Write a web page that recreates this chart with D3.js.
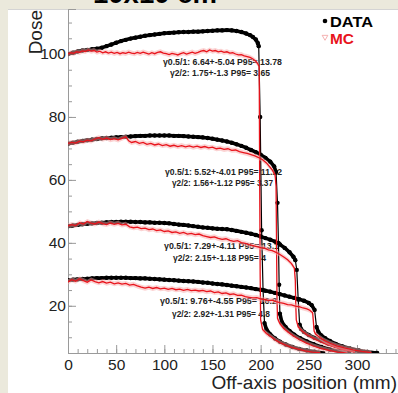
<!DOCTYPE html>
<html>
<head>
<meta charset="utf-8">
<script src="https://cdn.jsdelivr.net/npm/d3@7"></script>
<style>
  body { margin: 0; background: #ebe9dc; }
  svg { display: block; font-family: "Liberation Sans", Arial, sans-serif; }
</style>
</head>
<body>
<div class="chart"></div>
<script>
// profiles: [off-axis position (mm), dose]
const data100 = [[0,100.0],[5,100.4],[10,100.8],[15,101.1],[20,101.3],[25,101.5],[30,101.7],[35,102.0],[40,102.5],[45,103.0],[50,103.6],[55,104.1],[60,104.5],[65,104.9],[70,105.2],[75,105.5],[80,105.8],[85,106.0],[90,106.2],[95,106.4],[100,106.6],[105,106.7],[110,106.8],[115,106.9],[120,107.0],[125,107.0],[130,107.1],[135,107.1],[140,107.2],[145,107.3],[150,107.4],[155,107.5],[160,107.5],[165,107.6],[170,107.5],[175,107.3],[180,107.0],[185,106.5],[189,106.0],[192,105.4],[195,104.6],[197,103.5],[198,102.5],[199.5,80],[201,44],[202.5,25],[204,14.5],[206,12.5],[210,10.9],[215,9.6],[220,8.6],[226,7.7],[233,6.9],[240,6.3],[248,5.8],[256,5.4],[265,5.0]];
const mc100 = [[0,100.0],[3,100.4],[6,100.2],[9,100.7],[12,100.5],[15,101.0],[18,100.8],[21,101.3],[24,100.9],[27,101.1],[30,100.6],[33,100.9],[36,100.4],[39,100.7],[42,100.3],[45,100.6],[48,100.2],[51,100.5],[54,100.1],[57,100.4],[60,100.2],[63,100.6],[66,100.3],[69,100.1],[72,100.5],[75,100.2],[78,100.6],[81,100.3],[84,100.0],[87,100.4],[90,100.1],[93,100.5],[96,100.7],[99,100.3],[102,100.1],[105,99.8],[108,100.2],[111,100.0],[114,99.7],[117,100.1],[120,100.4],[123,100.0],[126,100.3],[129,100.6],[132,100.2],[135,100.5],[138,100.9],[141,101.1],[144,100.7],[147,101.3],[150,100.9],[153,101.1],[156,100.7],[159,100.9],[162,100.5],[165,100.7],[168,100.3],[171,100.4],[174,100.0],[177,99.7],[180,99.8],[183,99.4],[186,99.2],[189,98.9],[192,98.4],[195,97.7],[197,96.9],[198.5,96.0],[199,60],[199.5,30],[200,15.5],[202,12.5],[206,11.2],[210,10.3],[215,9.2],[220,8.3],[226,7.5],[232,6.8],[239,6.2],[246,5.7],[254,5.3],[262,5.0]];

const data72 = [[0,71.5],[5,71.8],[10,72.1],[15,72.4],[20,72.6],[25,72.8],[30,73.0],[35,73.2],[40,73.3],[45,73.4],[50,73.5],[55,73.6],[60,73.7],[65,73.8],[70,73.9],[75,74.0],[80,74.0],[85,74.1],[90,74.1],[95,74.1],[100,74.1],[105,74.1],[110,74.0],[115,74.0],[120,73.9],[125,73.8],[130,73.7],[135,73.6],[140,73.5],[145,73.3],[150,73.1],[155,72.8],[160,72.5],[165,72.2],[170,71.8],[175,71.3],[180,70.8],[185,70.2],[190,69.5],[195,68.8],[200,68.0],[205,67.0],[210,65.8],[214,64.3],[216,62.5],[217.5,52.7],[218.5,40],[219.2,26.7],[220,17.5],[222,14.8],[226,13.2],[230,12.0],[235,10.8],[241,9.7],[248,8.7],[255,7.8],[263,6.9],[272,6.1],[282,5.5],[292,5.1]];
const mc72 = [[0,71.6],[4,71.9],[8,71.7],[12,72.3],[16,72.1],[20,72.6],[24,72.4],[28,73.0],[32,73.4],[36,72.9],[40,73.3],[44,72.8],[48,73.1],[52,72.7],[56,73.2],[60,73.7],[63,72.4],[66,71.9],[70,72.2],[74,71.6],[78,71.9],[82,71.3],[86,71.6],[90,71.1],[94,71.4],[98,70.9],[102,71.2],[106,70.7],[110,71.0],[114,70.6],[118,70.9],[122,70.5],[126,70.8],[130,70.4],[134,70.7],[138,70.3],[142,70.6],[146,70.2],[150,70.4],[154,69.9],[158,70.1],[162,69.7],[166,69.9],[170,69.4],[174,69.5],[178,69.0],[182,68.7],[186,68.4],[190,68.0],[194,67.6],[198,67.1],[202,66.4],[206,65.4],[209,64.3],[212,63.2],[215,61.6],[216,58],[216.5,40],[217,22],[217.5,16],[220,14.3],[224,12.8],[229,11.5],[234,10.4],[240,9.3],[247,8.2],[254,7.3],[262,6.5],[271,5.8],[280,5.3],[290,5.0]];

const data45 = [[0,45.3],[5,45.5],[10,45.7],[15,45.9],[20,46.1],[25,46.2],[30,46.3],[35,46.4],[40,46.5],[45,46.6],[50,46.6],[55,46.7],[60,46.7],[65,46.7],[70,46.6],[75,46.6],[80,46.5],[85,46.5],[90,46.4],[95,46.4],[100,46.3],[105,46.2],[110,46.0],[115,45.8],[120,45.7],[125,45.5],[130,45.3],[135,45.1],[140,44.9],[145,44.8],[150,44.6],[155,44.5],[160,44.4],[165,44.3],[170,44.1],[175,43.8],[180,43.5],[185,43.2],[190,42.9],[195,42.5],[200,42.0],[205,41.5],[210,41.0],[215,40.4],[220,39.5],[225,38.4],[230,37.0],[234,35.6],[236,34.5],[237.5,31.4],[239,22],[240.5,14],[242,12.6],[245,11.7],[250,10.7],[256,9.8],[263,8.9],[270,8.0],[278,7.2],[287,6.4],[297,5.8],[308,5.3],[320,5.0]];
const mc45 = [[0,45.4],[4,45.8],[8,45.5],[12,46.4],[16,46.0],[20,46.8],[24,46.3],[28,46.0],[32,46.6],[36,46.1],[40,45.8],[44,46.3],[48,45.9],[52,46.2],[56,45.7],[60,45.9],[64,45.1],[68,44.8],[72,45.0],[76,44.5],[80,44.7],[84,44.2],[88,44.4],[92,43.9],[96,44.1],[100,43.6],[104,43.8],[108,43.3],[112,43.5],[116,43.0],[120,43.3],[124,42.8],[128,43.0],[132,42.6],[136,42.8],[140,42.3],[144,42.0],[148,41.7],[152,41.9],[156,41.4],[160,41.1],[164,41.3],[168,40.8],[172,40.5],[176,40.7],[180,40.1],[184,39.8],[188,39.4],[192,39.1],[196,38.8],[200,38.5],[204,38.3],[208,37.8],[212,37.5],[216,37.0],[220,36.3],[224,35.5],[228,34.6],[232,33.4],[235,32.0],[236,28],[236.5,20],[237,15.5],[239,13.3],[243,12.0],[248,10.8],[254,9.8],[260,8.9],[267,8.0],[274,7.2],[282,6.4],[290,5.8],[298,5.3]];

const data28 = [[0,28.1],[5,28.3],[10,28.4],[15,28.5],[20,28.6],[25,28.7],[30,28.8],[35,28.8],[40,28.9],[45,28.9],[50,28.9],[55,28.9],[60,28.9],[65,28.8],[70,28.8],[75,28.7],[80,28.7],[85,28.6],[90,28.5],[95,28.4],[100,28.3],[105,28.2],[110,28.1],[115,28.0],[120,27.9],[125,27.8],[130,27.7],[135,27.6],[140,27.4],[145,27.3],[150,27.1],[155,26.9],[160,26.8],[165,26.6],[170,26.4],[175,26.2],[180,26.0],[185,25.8],[190,25.6],[195,25.3],[200,25.1],[205,24.8],[210,24.5],[215,24.1],[220,23.7],[225,23.3],[230,22.9],[235,22.5],[240,22.1],[245,21.6],[250,20.9],[253,20.2],[256,18.7],[258,13.3],[260,11.6],[263,10.6],[267,9.7],[272,8.8],[278,7.9],[285,7.1],[293,6.4],[302,5.8],[311,5.3],[321,5.0]];
const mc28 = [[0,27.6],[4,28.3],[8,27.8],[12,28.6],[16,28.0],[20,27.5],[24,28.2],[28,27.7],[32,27.3],[36,27.7],[40,27.2],[44,27.5],[48,27.0],[52,27.3],[56,26.9],[60,27.1],[64,26.6],[68,26.8],[72,26.3],[76,25.9],[80,25.6],[84,25.9],[88,25.5],[92,25.8],[96,25.4],[100,25.6],[104,25.2],[108,25.5],[112,25.1],[116,25.3],[120,24.9],[124,25.2],[128,24.8],[132,25.0],[136,24.7],[140,24.9],[144,24.5],[148,24.7],[152,24.2],[156,24.4],[160,23.9],[164,24.1],[168,23.6],[172,23.8],[176,23.3],[180,23.4],[184,22.9],[188,22.7],[192,22.5],[196,22.6],[200,22.2],[204,22.0],[208,21.7],[212,21.8],[216,21.3],[220,21.0],[224,20.8],[228,20.4],[232,20.3],[236,19.9],[240,19.7],[244,19.3],[248,19.0],[251,18.6],[254,17.8],[255,14],[255.5,12],[257,11.0],[261,10.0],[266,9.0],[272,8.1],[279,7.3],[287,6.6],[296,6.0],[305,5.5],[315,5.1]];

// gamma summary text for each profile
const gamma100 = ["γ0.5/1: 6.64+-5.04 P95= 13.78", "γ2/2: 1.75+-1.3 P95= 3.65"];
const gamma72 = ["γ0.5/1: 5.52+-4.01 P95= 11.22", "γ2/2: 1.56+-1.12 P95= 3.37"];
const gamma45 = ["γ0.5/1: 7.29+-4.11 P95= 13.1", "γ2/2: 2.15+-1.18 P95= 4"];
const gamma28 = ["γ0.5/1: 9.76+-4.55 P95= 16.2", "γ2/2: 2.92+-1.31 P95= 4.8"];

const xMajor = [0, 50, 100, 150, 200, 250, 300];
const yMajor = [20, 40, 60, 80, 100];

const W = 398, H = 393;
const svg = d3.select(".chart").append("svg").attr("width", W).attr("height", H);

// slide panel
svg.append("rect").attr("x", 8).attr("y", 9).attr("width", W - 8).attr("height", H - 9).attr("fill", "#fff");
svg.append("line").attr("x1", 8).attr("x2", W).attr("y1", 9.5).attr("y2", 9.5).attr("stroke", "#d4d4d4");

// slide title, only its lower edge shows above the panel
svg.append("text").attr("x", 93).attr("y", 2.5).attr("font-size", 28).attr("font-weight", "bold")
  .attr("textLength", 124).attr("lengthAdjust", "spacingAndGlyphs").text("10x10 cm");

const x = d3.scaleLinear().domain([0, 342.6]).range([68, 398]);
const y = d3.scaleLinear().domain([5, 114.3]).range([353, 9]);

svg.append("defs").append("clipPath").attr("id", "clip")
  .append("rect").attr("x", 68).attr("y", 9).attr("width", 330).attr("height", 344);

// axes
const axisColor = "#9a9a9a";
const xMinor = svg.append("g").attr("transform", "translate(0,353)")
  .call(d3.axisBottom(x).tickValues(d3.range(0, 341, 10)).tickSize(-4).tickFormat(""));
const xAx = svg.append("g").attr("transform", "translate(0,353)")
  .call(d3.axisBottom(x).tickValues(xMajor).tickSize(-8).tickPadding(6));
const yMinor = svg.append("g").attr("transform", "translate(68,0)")
  .call(d3.axisLeft(y).tickValues(d3.range(5, 114, 5)).tickSize(-4).tickFormat(""));
const yAx = svg.append("g").attr("transform", "translate(68,0)")
  .call(d3.axisLeft(y).tickValues(yMajor).tickSize(-8).tickPadding(2));
[xMinor, xAx, yMinor, yAx].forEach((g) => {
  g.selectAll("path, line").attr("stroke", axisColor);
  g.selectAll("text").attr("fill", "#222").attr("font-size", 15.5)
    .attr("font-family", "Liberation Sans, Arial, sans-serif");
});

// axis titles
svg.append("text").attr("transform", "translate(42,10) rotate(-90)")
  .attr("text-anchor", "end").attr("font-size", 19).attr("fill", "#222").text("Dose");
svg.append("text").attr("x", 397).attr("y", 389).attr("text-anchor", "end")
  .attr("font-size", 19).attr("fill", "#222").text("Off-axis position (mm)");

// gamma annotations, anchored in data units
const notes = [
  [gamma100, [98.6, 96.5], [105.9, 93.0], [119, 100]],
  [gamma72, [100.7, 61.6], [108, 58.1], [117, 101]],
  [gamma45, [99.7, 38.0], [109, 34.2], [115, 93]],
  [gamma28, [95.5, 20.6], [108, 16.4], [117, 98]],
];
notes.forEach(([txt, p1, p2, w]) => {
  [p1, p2].forEach((p, i) => {
    svg.append("text").attr("x", x(p[0])).attr("y", y(p[1]))
      .attr("font-size", 8.5).attr("font-weight", "bold").attr("fill", "#222")
      .attr("textLength", w[i]).attr("lengthAdjust", "spacingAndGlyphs").text(txt[i]);
  });
});

const plot = svg.append("g").attr("clip-path", "url(#clip)");
const line = d3.line().x((d) => x(d[0])).y((d) => y(d[1]));
const band = d3.area().x((d) => x(d[0])).y0((d) => y(d[1] - 0.8)).y1((d) => y(d[1] + 0.8));

//draw measured profiles: dense markers read as a thick band, the falls as a thin line
[data100, data72, data45, data28].forEach((d) => {
  plot.append("path").datum(d).attr("d", line).attr("fill", "none")
    .attr("stroke", "#000").attr("stroke-width", 1.2);
  const segs = d3.pairs(d).filter(([a, b]) => Math.abs(b[1] - a[1]) < 3);
  plot.selectAll(null).data(segs).enter().append("path")
    .attr("d", (s) => line(s)).attr("fill", "none").attr("stroke", "#000")
    .attr("stroke-width", 3.6).attr("stroke-linecap", "round");
  plot.selectAll(null).data(d).enter().append("circle")
    .attr("cx", (p) => x(p[0])).attr("cy", (p) => y(p[1])).attr("r", 2.2).attr("fill", "#000");
});

//draw MC profiles with error band
[mc100, mc72, mc45, mc28].forEach((d) => {
  plot.append("path").datum(d).attr("d", band).attr("fill", "#f7a8a8").attr("opacity", 0.5);
  plot.append("path").datum(d).attr("d", line).attr("fill", "none")
    .attr("stroke", "#e8141c").attr("stroke-width", 1.3);
});

// legend
svg.append("circle").attr("cx", 325).attr("cy", 21).attr("r", 2.3).attr("fill", "#000");
svg.append("text").attr("x", 330).attr("y", 27).attr("font-size", 15.5).attr("font-weight", "bold")
  .attr("textLength", 43).attr("lengthAdjust", "spacingAndGlyphs").text("DATA");
svg.append("path").attr("d", d3.symbol(d3.symbolTriangle, 14)()).attr("transform", "translate(325,37) rotate(180)")
  .attr("fill", "none").attr("stroke", "#f2a0a0").attr("stroke-width", 0.8);
svg.append("text").attr("x", 330).attr("y", 44).attr("font-size", 15.5).attr("font-weight", "bold")
  .attr("fill", "#e8141c").attr("textLength", 24).attr("lengthAdjust", "spacingAndGlyphs").text("MC");
</script>
</body>
</html>
